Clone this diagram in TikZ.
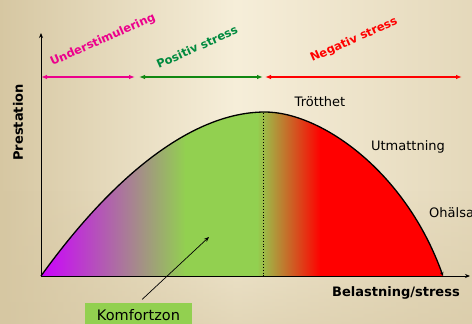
\documentclass[tikz,border=0pt]{standalone}
\usepackage{fontspec}
\setmainfont{DejaVu Sans}
\usetikzlibrary{arrows.meta,positioning,fadings}
\definecolor{bgljus}{HTML}{F6EED9}
\definecolor{bgmork}{HTML}{D6C7A2}
\definecolor{komgron}{HTML}{92D050}
\definecolor{lila}{HTML}{CC00FF}
\definecolor{posgron}{HTML}{008A3E}
\definecolor{pilgron}{HTML}{118811}

\begin{document}
\begin{tikzpicture}[x=1pt, y=-1pt,
  zon/.style={font=\bfseries\fontsize{11.5}{13}\selectfont, rotate=24},
  lbl/.style={font=\fontsize{13}{15}\selectfont},
  axel/.style={line width=0.9pt, -{Stealth[length=5pt,width=4pt]}},
  pil/.style={line width=1.1pt, {Latex[length=6pt,width=4.5pt]}-{Latex[length=6pt,width=4.5pt]}}]

% bakgrund
\shade[left color=bgmork, right color=bgmork!55!bgljus, middle color=bgljus] (0,0) rectangle (472,324);
\fill[bgmork, opacity=0.6, path fading=north] (0,190) rectangle (472,324);
\useasboundingbox (0,0) rectangle (472,324);

% fyllning under kurvan
\begin{scope}
\clip (41,276) .. controls (110,180) and (190,112) .. (265,112)
  .. controls (320,112) and (405,170) .. (443,276) -- cycle;
\shade[left color=lila, right color=komgron] (40,100) rectangle (185.5,280);
\fill[komgron] (185,100) rectangle (257.5,280);
\shade[left color=komgron, right color=red] (257,100) rectangle (320.5,280);
\fill[red] (320,100) rectangle (450,280);
\end{scope}

% kurva och axlar
\draw[line width=1.3pt, -{Stealth[length=4pt,width=3.5pt]}] (41,276) .. controls (110,180) and (190,112) .. (265,112)
  .. controls (320,112) and (405,170) .. (443,276);
\coordinate (O) at (41,276);
\coordinate (ytop) at (41,33);
\coordinate (xend) at (470,276);
\coordinate (topp) at (263,113);
\draw[axel] (O) -- (ytop);
\draw[axel] (O) -- (xend);
\draw[dotted, line width=0.9pt] (topp) -- (topp |- O);

% zoner
\coordinate (u1) at (41,77);  \coordinate (u2) at (135,77);
\coordinate (p1) at (139,77); \coordinate (p2) at (263,77);
\coordinate (n1) at (265,77); \coordinate (n2) at (462,77);
\draw[pil, magenta] (u1) -- (u2);
\draw[pil, pilgron] (p1) -- (p2);
\draw[pil, red] (n1) -- (n2);
\node[zon, text=magenta] (under) at (103,40) {Understimulering};
\node[zon, text=posgron] (positiv) at (197,47) {Positiv stress};
\node[zon, text=red] (negativ) at (354,40) {Negativ stress};

% texter
\node[font=\bfseries\fontsize{13}{15}\selectfont, rotate=90] (prest) at (18,122.5) {Prestation};
\node[font=\bfseries\fontsize{13}{15}\selectfont] (belast) at (396,293) {Belastning/stress};
\node[lbl] (trott) at (320,102) {Trötthet};
\node[lbl] (utmatt) at (408,147) {Utmattning};
\node[lbl, anchor=west, inner sep=0pt] (ohalsa) at (429,213) {Ohälsa};

% komfortzon
\node[lbl, font=\fontsize{14.5}{16}\selectfont, fill=komgron, minimum width=107pt, minimum height=24pt] (komfort) at (138.5,315) {Komfortzon};
\coordinate (kpil) at (209,237);
\draw[line width=0.7pt, -{Stealth[length=5pt,width=4pt]}, shorten <=5pt] (komfort.north) -- (kpil);

\end{tikzpicture}
\end{document}
